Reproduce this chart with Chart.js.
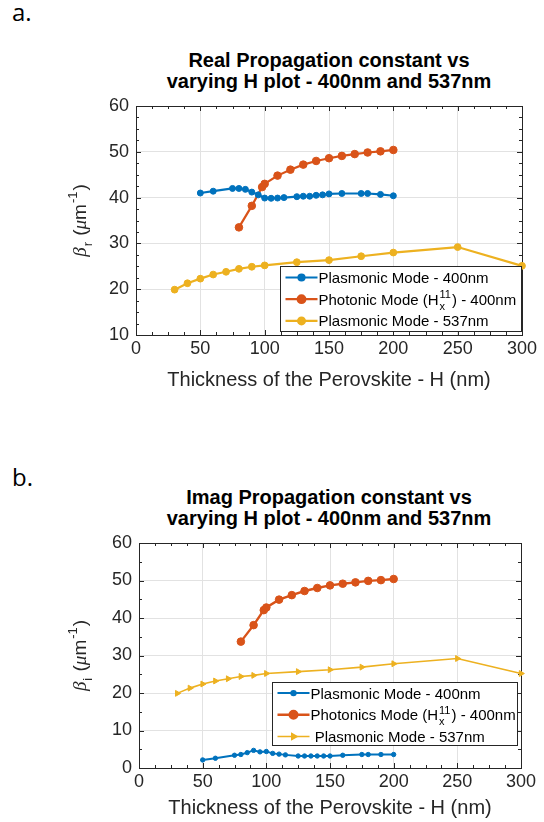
<!DOCTYPE html>
<html>
<head>
<meta charset="utf-8">
<script src="https://cdn.jsdelivr.net/npm/chart.js@4.4.0/dist/chart.umd.min.js"></script>
<style>
  body { margin: 0; width: 544px; height: 822px; background: #fff; position: relative; overflow: hidden; }
  canvas { position: absolute; left: 0; }
  .tag { position: absolute; left: 12px; font-family: "Open Sans", sans-serif; font-size: 24px; line-height: 1; color: #000; }
  .ttl { position: absolute; left: 136px; width: 386px; text-align: center; font-family: "Liberation Sans", Arial, sans-serif;
         font-weight: bold; font-size: 20px; line-height: 21px; color: #000; }
</style>
</head>
<body>
<div class="tag" style="top:0px">a.</div>
<div class="ttl" style="top:50px">Real Propagation constant vs<br>varying H plot - 400nm and 537nm</div>
<canvas id="chartA" width="544" height="411" style="top:0px"></canvas>

<div class="tag" style="top:465px">b.</div>
<div class="ttl" style="top:487px">Imag Propagation constant vs<br>varying H plot - 400nm and 537nm</div>
<canvas id="chartB" width="544" height="411" style="top:411px"></canvas>

<script>
// thickness H (nm) for each series
const thickPlasmonic400 = [50, 60, 75, 80, 85, 90, 95, 100, 105, 110, 115, 125, 130, 135, 140, 145, 150, 160, 175, 180, 190, 200];
const thickPhotonic400 = [80, 90, 98, 100, 110, 120, 130, 140, 150, 160, 170, 180, 190, 200];
const thickPlasmonic537 = [30, 40, 50, 60, 70, 80, 90, 100, 125, 150, 175, 200, 250, 300];

// a. real part (um^-1)
const realPlasmonic400 = [41.0, 41.4, 42.0, 42.0, 41.8, 41.2, 40.6, 39.9, 39.85, 39.9, 40.0, 40.2, 40.3, 40.3, 40.5, 40.6, 40.8, 40.9, 40.9, 40.9, 40.7, 40.4];
const realPhotonic400 = [33.5, 38.2, 42.3, 43.0, 44.8, 46.1, 47.2, 48.0, 48.6, 49.1, 49.5, 49.85, 50.1, 50.4];
const realPlasmonic537 = [19.9, 21.3, 22.3, 23.2, 23.8, 24.45, 24.9, 25.2, 25.9, 26.35, 27.2, 28.0, 29.2, 25.1];

// b. imaginary part (um^-1)
const imagPlasmonic400 = [2.15, 2.6, 3.4, 3.6, 4.1, 4.7, 4.3, 4.4, 3.9, 3.7, 3.5, 3.2, 3.2, 3.2, 3.2, 3.2, 3.2, 3.4, 3.6, 3.6, 3.6, 3.6];
const imagPhotonic400 = [33.7, 38.1, 42.1, 42.8, 44.9, 46.1, 47.2, 48.0, 48.7, 49.15, 49.5, 49.9, 50.1, 50.4];
const imagPlasmonic537 = [19.9, 21.3, 22.4, 23.2, 23.8, 24.4, 24.7, 25.2, 25.7, 26.2, 26.9, 27.8, 29.2, 25.2];

const xLabel = "Thickness of the Perovskite - H (nm)";
const legendA = ["Plasmonic Mode - 400nm", "Photonic Mode (H", ") - 400nm", "Plasmonic Mode - 537nm"];
const legendB = ["Plasmonic Mode - 400nm", "Photonics Mode (H", ") - 400nm", " Plasmonic Mode - 537nm"];

const BLUE = "#0072BD", ORANGE = "#D95319", YELLOW = "#EDB120";
const AXIS = "#262626";
const SANS = '"Liberation Sans", Arial, sans-serif';

function pts(xs, ys) {
  return xs.map((x, i) => ({x: x, y: ys[i]}));
}

// text with TeX-like sub / superscripts, returns width
function drawRich(ctx, parts, x, y, size, draw) {
  let cx = x;
  const small = Math.round(size * 0.7);
  for (const p of parts) {
    if (p.t !== undefined) {
      ctx.font = p.greek ? `italic ${size}px "Liberation Serif", serif` : `${size}px ${SANS}`;
      if (draw) ctx.fillText(p.t, cx, y);
      cx += ctx.measureText(p.t).width;
    } else {
      ctx.font = `${small}px ${SANS}`;
      let w = 0;
      if (p.sub) {
        if (draw) ctx.fillText(p.sub, cx + 1, y + size * 0.32);
        w = Math.max(w, ctx.measureText(p.sub).width);
      }
      if (p.sup) {
        if (draw) ctx.fillText(p.sup, cx + 1, y - size * 0.45);
        w = Math.max(w, ctx.measureText(p.sup).width);
      }
      cx += w + 2;
    }
  }
  return cx - x;
}

// matlab like box with inner major/minor ticks on all sides
const framePlugin = {
  id: "frame",
  beforeDatasetsDraw(chart, args, o) {
    const ctx = chart.ctx, a = chart.chartArea;
    const x = chart.scales.x, y = chart.scales.y;
    ctx.save();
    ctx.strokeStyle = AXIS;
    ctx.lineWidth = 1;
    ctx.strokeRect(Math.round(a.left) + 0.5, Math.round(a.top) + 0.5, Math.round(a.right - a.left), Math.round(a.bottom - a.top));
    ctx.beginPath();
    for (let v = x.min; v <= x.max + 1e-6; v += o.minorX) {
      const px = Math.round(x.getPixelForValue(v)) + 0.5;
      const len = Math.abs(v % o.majorX) < 1e-6 ? 5 : 3;
      ctx.moveTo(px, a.bottom); ctx.lineTo(px, a.bottom - len);
      ctx.moveTo(px, a.top); ctx.lineTo(px, a.top + len);
    }
    for (let v = y.min; v <= y.max + 1e-6; v += o.minorY) {
      const py = Math.round(y.getPixelForValue(v)) + 0.5;
      const len = Math.abs(v % o.majorY) < 1e-6 ? 5 : 3;
      ctx.moveTo(a.left, py); ctx.lineTo(a.left + len, py);
      ctx.moveTo(a.right, py); ctx.lineTo(a.right - len, py);
    }
    ctx.stroke();
    ctx.restore();
  },
  afterDraw(chart, args, o) {
    // y axis title, rotated
    const ctx = chart.ctx, a = chart.chartArea;
    ctx.save();
    ctx.fillStyle = AXIS;
    ctx.textBaseline = "alphabetic";
    ctx.translate(o.yTitleX, (a.top + a.bottom) / 2);
    ctx.rotate(-Math.PI / 2);
    const w = drawRich(ctx, o.yTitle, 0, 0, 19, false);
    drawRich(ctx, o.yTitle, -w / 2, 6, 19, true);
    ctx.restore();
  }
};

// legend box with rich labels, drawn inside the axes
const boxLegendPlugin = {
  id: "boxLegend",
  afterDatasetsDraw(chart, args, o) {
    const ctx = chart.ctx, a = chart.chartArea;
    const right = Math.round(a.right) - o.right + 0.5;
    const bottom = Math.round(a.bottom) - o.bottom + 0.5;
    const left = right - o.width, top = bottom - o.height;
    ctx.save();
    ctx.fillStyle = "#fff";
    ctx.fillRect(left, top, o.width, o.height);
    ctx.strokeStyle = AXIS;
    ctx.lineWidth = 1;
    ctx.strokeRect(left, top, o.width, o.height);
    ctx.textBaseline = "alphabetic";
    o.items.forEach((it, i) => {
      const ds = chart.data.datasets[i];
      const cy = top + o.rowTop + i * o.rowGap;
      ctx.strokeStyle = ds.borderColor;
      ctx.lineWidth = ds.borderWidth;
      ctx.beginPath();
      ctx.moveTo(left + 5, cy);
      ctx.lineTo(left + 37, cy);
      ctx.stroke();
      Chart.helpers.drawPoint(ctx, {
        pointStyle: ds.pointStyle, rotation: ds.pointRotation || 0,
        radius: ds.pointRadius, borderWidth: 1
      }, left + 21, cy);
      ctx.fillStyle = ds.borderColor;
      ctx.fill();
      ctx.fillStyle = "#000";
      drawRich(ctx, it, left + 38, cy + 5.5, o.fontSize, true);
    });
    ctx.restore();
  }
};

function makeChart(id, series, ymin, opt) {
  return new Chart(document.getElementById(id), {
    type: "line",
    data: {
      datasets: series.map(s => ({
        data: s.data,
        borderColor: s.color,
        backgroundColor: s.color,
        borderWidth: s.lw,
        pointRadius: s.r,
        pointStyle: s.style || "circle",
        pointRotation: s.rot || 0,
        pointBorderWidth: 1,
        pointHoverRadius: s.r,
        tension: 0,
        clip: 8
      }))
    },
    options: {
      responsive: false,
      animation: false,
      devicePixelRatio: 1,
      events: [],
      layout: {padding: opt.padding},
      scales: {
        x: {
          type: "linear", min: 0, max: 300,
          ticks: {stepSize: 50, color: AXIS, padding: 3, font: {family: SANS, size: 18}},
          grid: {color: "#e2e2e2", drawTicks: false},
          border: {display: false},
          title: {display: true, text: xLabel, color: AXIS, font: {family: SANS, size: 20}, padding: {top: 0, bottom: opt.xTitlePad}},
          afterFit(s) { s.height = opt.xHeight; }
        },
        y: {
          type: "linear", min: ymin, max: 60,
          ticks: {stepSize: 10, color: AXIS, padding: 7, font: {family: SANS, size: 18}},
          grid: {color: "#e2e2e2", drawTicks: false},
          border: {display: false},
          afterFit(s) { s.width = 50; }
        }
      },
      plugins: {
        legend: {display: false},
        tooltip: {enabled: false},
        frame: {majorX: 50, minorX: 12.5, majorY: 10, minorY: opt.minorY, yTitle: opt.yTitle, yTitleX: 80},
        boxLegend: opt.legend
      }
    },
    plugins: [framePlugin, boxLegendPlugin]
  });
}

function legendItems(txt) {
  return [
    [{t: txt[0]}],
    [{t: txt[1]}, {sub: "x", sup: "11"}, {t: txt[2]}],
    [{t: txt[3]}]
  ];
}

makeChart("chartA", [
  {data: pts(thickPlasmonic400, realPlasmonic400), color: BLUE, lw: 2.2, r: 3},
  {data: pts(thickPhotonic400, realPhotonic400), color: ORANGE, lw: 2.2, r: 3.8},
  {data: pts(thickPlasmonic537, realPlasmonic537), color: YELLOW, lw: 2.2, r: 3.4}
], 10, {
  padding: {left: 86, top: 106, right: 22, bottom: 16},
  xHeight: 60, xTitlePad: 3, minorY: 2.5,
  yTitle: [{t: "β", greek: true}, {sub: "r"}, {t: " ("}, {t: "μ", greek: true}, {t: "m"}, {sup: "-1"}, {t: ")"}],
  legend: {width: 241, height: 65, right: 1, bottom: 4, rowTop: 11, rowGap: 21.7, fontSize: 15, items: legendItems(legendA)}
});

makeChart("chartB", [
  {data: pts(thickPlasmonic400, imagPlasmonic400), color: BLUE, lw: 2, r: 2.2},
  {data: pts(thickPhotonic400, imagPhotonic400), color: ORANGE, lw: 2.4, r: 3.8},
  {data: pts(thickPlasmonic537, imagPlasmonic537), color: YELLOW, lw: 1.6, r: 3.4, style: "triangle", rot: 90}
], 0, {
  padding: {left: 89, top: 132, right: 23, bottom: 2},
  xHeight: 52, xTitlePad: 0, minorY: 5,
  yTitle: [{t: "β", greek: true}, {sub: "i"}, {t: " ("}, {t: "μ", greek: true}, {t: "m"}, {sup: "-1"}, {t: ")"}],
  legend: {width: 245, height: 63, right: 4, bottom: 23, rowTop: 10.6, rowGap: 21.7, fontSize: 15, items: legendItems(legendB)}
});
</script>
</body>
</html>
